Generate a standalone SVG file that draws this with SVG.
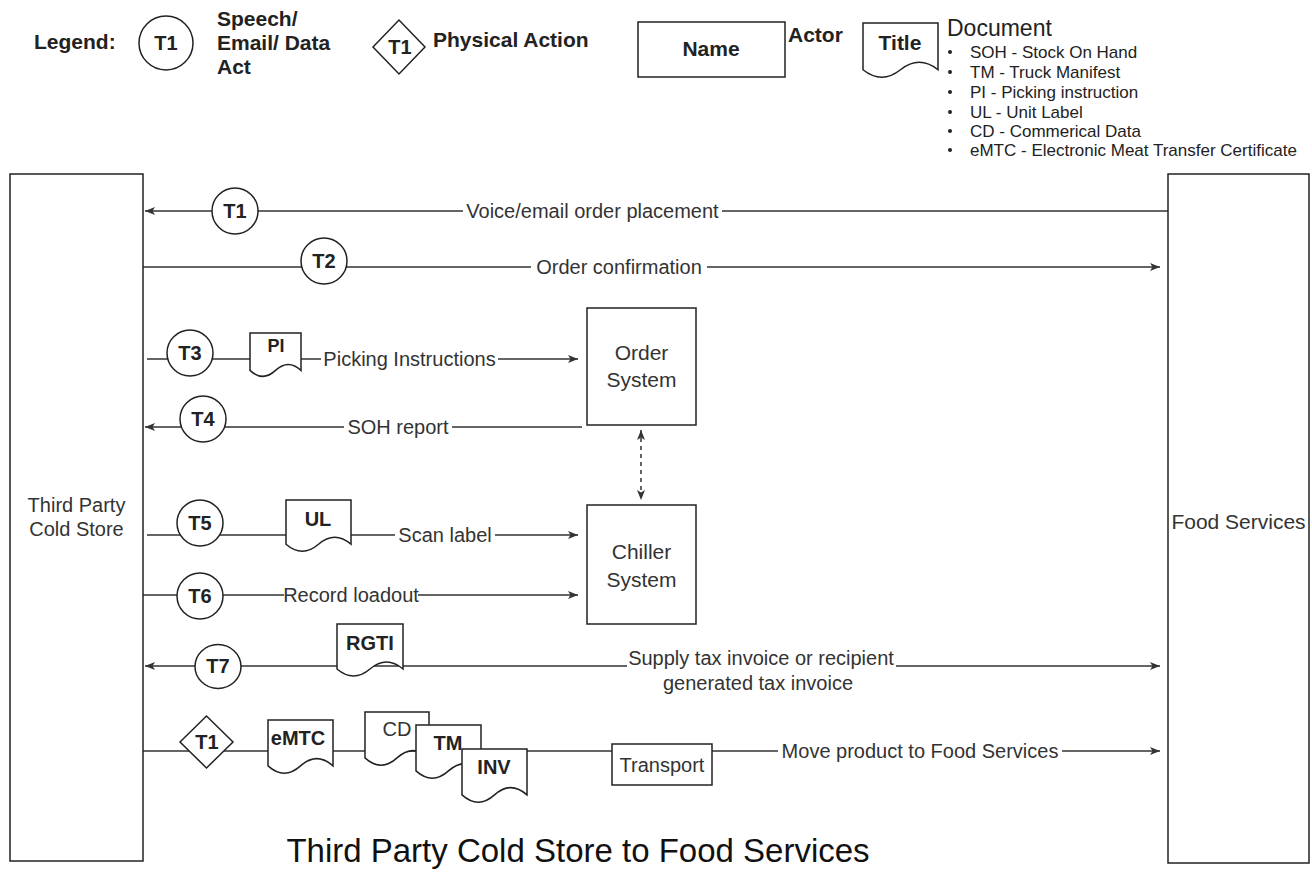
<svg xmlns="http://www.w3.org/2000/svg" width="1312" height="876" viewBox="0 0 1312 876">
<defs>
<style>
text{font-family:"Liberation Sans",Arial,sans-serif;fill:#333}
.lb{font-size:20px;text-anchor:middle}
.lg{font-size:21px;font-weight:bold;fill:#222}
.tc{font-size:20px;font-weight:bold;text-anchor:middle;fill:#222}
.dl{font-size:17px;fill:#222}
.box{fill:#fff;stroke:#222;stroke-width:1.5}
.shape{fill:#fff;stroke:#222;stroke-width:1.5}
.ln{fill:none;stroke:#333;stroke-width:1.5}
.ar{marker-end:url(#arr)}
.dash{stroke-dasharray:4 4}
</style>
<marker id="arr" viewBox="0 0 10 8" refX="10" refY="4" markerWidth="10" markerHeight="8" markerUnits="userSpaceOnUse" orient="auto">
<path d="M0,0 L10,4 L0,8 L2.5,4 Z" fill="#333"/>
</marker>
<marker id="arrs" viewBox="0 0 10 8" refX="0" refY="4" markerWidth="10" markerHeight="8" markerUnits="userSpaceOnUse" orient="auto">
<path d="M10,0 L0,4 L10,8 L7.5,4 Z" fill="#333"/>
</marker>
</defs>
<rect width="1312" height="876" fill="#fff"/>

<!-- Legend -->
<g id="legend">
<text class="lg" x="34" y="49">Legend:</text>
<ellipse class="shape" cx="166" cy="43" rx="27" ry="27"/>
<text class="tc" x="166" y="50">T1</text>
<text class="lg" x="217" y="26">Speech/</text>
<text class="lg" x="217" y="50">Email/ Data</text>
<text class="lg" x="217" y="74">Act</text>
<path class="shape" d="M373,47 L399,20 L425,47 L399,74 Z"/>
<text class="tc" x="400" y="54">T1</text>
<text class="lg" x="433" y="47">Physical Action</text>
<rect class="box" x="638" y="22" width="147" height="55"/>
<text class="tc" x="711" y="56" style="font-size:21px">Name</text>
<text class="lg" x="788" y="42">Actor</text>
<path class="shape" d="M863,23 H938 V69.75 Q919.25,54.9 900.5,69.75 Q881.75,84.6 863,69.75 Z"/>
<text class="tc" x="900" y="50" style="font-size:21px">Title</text>
<text x="947" y="36" style="font-size:23px;fill:#222">Document</text>
<g fill="#222">
<circle cx="950" cy="52" r="2"/>
<circle cx="950" cy="72" r="2"/>
<circle cx="950" cy="92" r="2"/>
<circle cx="950" cy="112" r="2"/>
<circle cx="950" cy="131" r="2"/>
<circle cx="950" cy="150" r="2"/>
</g>
<text class="dl" x="970" y="58">SOH - Stock On Hand</text>
<text class="dl" x="970" y="78">TM - Truck Manifest</text>
<text class="dl" x="970" y="98">PI - Picking instruction</text>
<text class="dl" x="970" y="118">UL - Unit Label</text>
<text class="dl" x="970" y="137">CD - Commerical Data</text>
<text class="dl" x="970" y="156">eMTC - Electronic Meat Transfer Certificate</text>
</g>

<!-- Connectors -->
<g id="connectors">
<path class="ln ar" d="M1168,211 H722 M463,211 H145"/>
<text class="lb" x="592.5" y="218">Voice/email order placement</text>
<path class="ln ar" d="M143,267 H531 M707,267 H1160"/>
<text class="lb" x="619" y="274">Order confirmation</text>
<path class="ln ar" d="M147,359 H321 M498,359 H578"/>
<text class="lb" x="409.5" y="366">Picking Instructions</text>
<path class="ln ar" d="M582,427 H452 M344,427 H145"/>
<text class="lb" x="398" y="434">SOH report</text>
<path class="ln dash" d="M641,430 V500" marker-start="url(#arrs)" marker-end="url(#arr)"/>
<path class="ln ar" d="M147,535 H395 M495,535 H578"/>
<text class="lb" x="445" y="542">Scan label</text>
<path class="ln ar" d="M143,595 H284 M418,595 H578"/>
<text class="lb" x="351" y="602">Record loadout</text>
<path class="ln" d="M145,666 H627 M896,666 H1160" marker-start="url(#arrs)" marker-end="url(#arr)"/>
<text class="lb" x="761" y="665">Supply tax invoice or recipient</text>
<text class="lb" x="758" y="690">generated tax invoice</text>
<path class="ln ar" d="M143,751 H778 M1062,751 H1160"/>
<text class="lb" x="920" y="758">Move product to Food Services</text>
</g>

<!-- Actors -->
<g id="third-party-cold-store">
<rect class="box" x="10" y="174" width="133" height="687"/>
<text class="lb" x="76.5" y="512">Third Party</text>
<text class="lb" x="76.5" y="536">Cold Store</text>
</g>
<g id="food-services">
<rect class="box" x="1168" y="174" width="141" height="689"/>
<text class="lb" x="1238.5" y="529" style="font-size:21px">Food Services</text>
</g>
<g id="order-system">
<rect class="box" x="587" y="308" width="109" height="117"/>
<text class="lb" x="641.5" y="360" style="font-size:21px">Order</text>
<text class="lb" x="641.5" y="387" style="font-size:21px">System</text>
</g>
<g id="chiller-system">
<rect class="box" x="587" y="505" width="109" height="119"/>
<text class="lb" x="641.5" y="559" style="font-size:21px">Chiller</text>
<text class="lb" x="641.5" y="587" style="font-size:21px">System</text>
</g>
<g id="transport">
<rect class="box" x="612" y="744" width="100" height="41"/>
<text class="lb" x="662" y="772">Transport</text>
</g>

<!-- Transaction acts -->
<g id="t1"><ellipse class="shape" cx="235" cy="211" rx="23" ry="23"/><text class="tc" x="235" y="218">T1</text></g>
<g id="t2"><ellipse class="shape" cx="324" cy="261" rx="23" ry="23"/><text class="tc" x="324" y="268">T2</text></g>
<g id="t3"><ellipse class="shape" cx="190" cy="353" rx="23" ry="23"/><text class="tc" x="190" y="360">T3</text></g>
<g id="t4"><ellipse class="shape" cx="203" cy="419" rx="23" ry="23"/><text class="tc" x="203" y="426">T4</text></g>
<g id="t5"><ellipse class="shape" cx="200" cy="523" rx="23" ry="23"/><text class="tc" x="200" y="530">T5</text></g>
<g id="t6"><ellipse class="shape" cx="200" cy="596" rx="23" ry="23"/><text class="tc" x="200" y="603">T6</text></g>
<g id="t7"><ellipse class="shape" cx="218" cy="666.5" rx="23" ry="22"/><text class="tc" x="218" y="673">T7</text></g>
<g id="t1-physical"><path class="shape" d="M180,742 L206.5,716 L233,742 L206.5,768 Z"/><text class="tc" x="207" y="749">T1</text></g>

<!-- Documents -->
<g id="doc-pi"><path class="shape" d="M250,333 H301 V370.4 Q288.25,358.5 275.5,370.4 Q262.75,382.3 250,370.4 Z"/><text class="tc" x="276" y="352" style="font-size:18px">PI</text></g>
<g id="doc-ul"><path class="shape" d="M286,500 H351 V544.2 Q334.75,530.2 318.5,544.2 Q302.25,558.2 286,544.2 Z"/><text class="tc" x="318" y="526">UL</text></g>
<g id="doc-rgti"><path class="shape" d="M337,624 H403 V669 Q386.5,655 370,669 Q353.5,683 337,669 Z"/><text class="tc" x="370" y="650">RGTI</text></g>
<g id="doc-emtc"><path class="shape" d="M268,720 H333 V765.9 Q316.75,751.3 300.5,765.9 Q284.25,780.5 268,765.9 Z"/><text class="tc" x="298" y="745">eMTC</text></g>
<g id="doc-cd"><path class="shape" d="M365,712 H429 V757.9 Q413,743.3 397,757.9 Q381,772.5 365,757.9 Z"/><text class="lb" x="397" y="736">CD</text></g>
<g id="doc-tm"><path class="shape" d="M416,725 H481 V770.9 Q464.75,756.3 448.5,770.9 Q432.25,785.5 416,770.9 Z"/><text class="tc" x="448" y="750">TM</text></g>
<g id="doc-inv"><path class="shape" d="M462,749 H527 V794.9 Q510.75,780.3 494.5,794.9 Q478.25,809.5 462,794.9 Z"/><text class="tc" x="494" y="774">INV</text></g>

<text id="title" x="578" y="862" style="font-size:33px;text-anchor:middle;fill:#111">Third Party Cold Store to Food Services</text>
</svg>
